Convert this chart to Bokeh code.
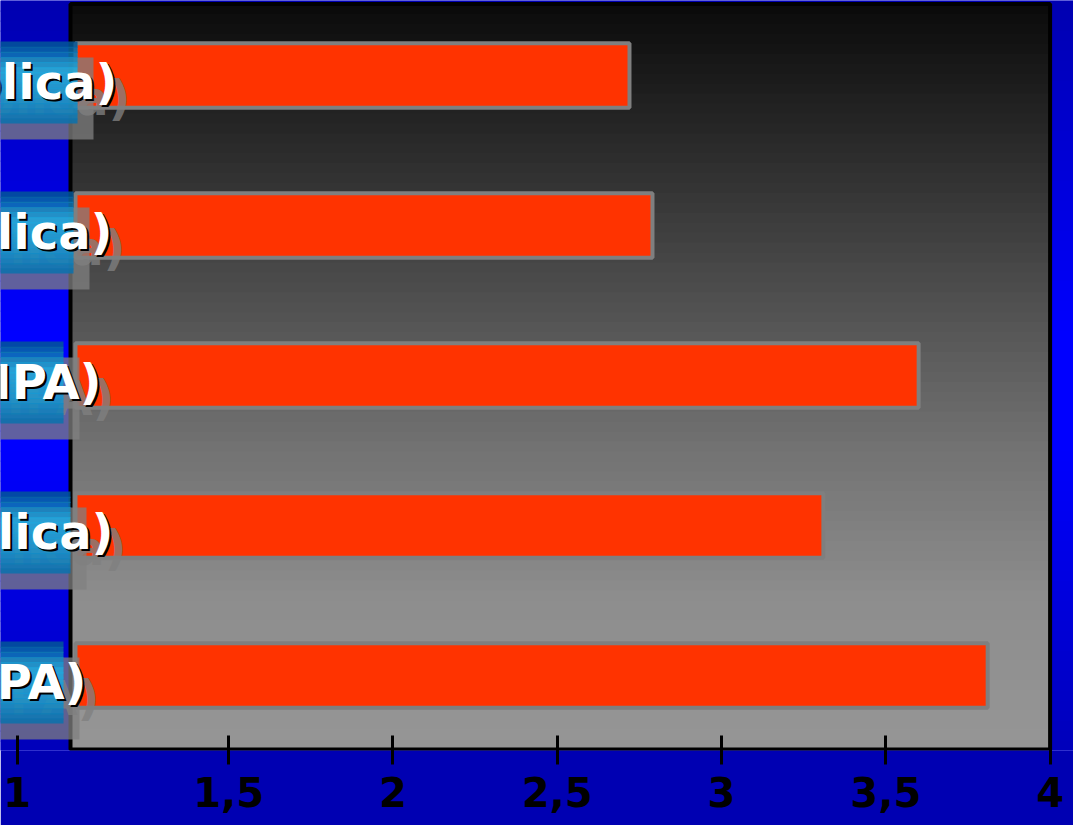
import numpy as np
from bokeh.plotting import figure
from bokeh.models import Range1d, FixedTicker
from bokeh.core.properties import value
from bokeh.embed import file_html
from bokeh.resources import INLINE

# ---------------- data ----------------
categories = ["blica)", "lica)", "IPA)", "lica)", "PA)"]
values = [2.72, 2.79, 3.60, 3.31, 3.81]
tick_values = [1, 1.5, 2, 2.5, 3, 3.5, 4]
tick_labels = ["1", "1,5", "2", "2,5", "3", "3,5", "4"]

# ---------------- geometry / style ----------------
W, H = 1073, 825
AXIS_H = 75
N = len(categories)
FH = H - AXIS_H
PYU = FH / N                     # px per category slot
PXU = 328.6                      # px per x unit
X_START = 4 - 1049.6 / PXU
X_END = X_START + W / PXU


def xpx(px):
    return X_START + px / PXU


def dy(px):
    return px / PYU


FONT = value("DejaVu Sans")
BOX_RIGHT_PX = [77, 73, 63, 70, 63]
TEXT_RIGHT_PX = [117, 112, 101, 113, 86]
PLOT_LEFT = xpx(70)
BAR_LEFT = xpx(75)
FIRST_TICK = xpx(16.7)

p = figure(width=W, height=H, x_range=Range1d(X_START, X_END), y_range=Range1d(0, N),
           output_backend="svg", toolbar_location=None, y_axis_location=None,
           min_border_left=0, min_border_right=0, min_border_top=0,
           min_border_bottom=AXIS_H)
p.border_fill_color = "#0000b2"
p.background_fill_color = "#0000d0"
p.outline_line_color = None
p.xgrid.visible = False
p.ygrid.visible = False


def vstrips(left, right, top_px, bot_px, n, keys, rk, gk, bk, alpha=1.0):
    e = np.linspace(top_px, bot_px, n + 1)
    m = (e[:-1] + e[1:]) / 2
    cols = ["#%02x%02x%02x" % (int(np.interp(v, keys, rk)), int(np.interp(v, keys, gk)),
                               int(np.interp(v, keys, bk))) for v in m]
    bottoms = np.minimum(e[1:] + 1.2, bot_px)
    p.quad(left=left, right=right, top=N - e[:-1] / PYU, bottom=N - bottoms / PYU,
           fill_color=cols, fill_alpha=alpha, line_color=None)


# blue slide background gradient
vstrips(X_START, X_END, 0, FH, 75, [0, 330, 450, 750], [0] * 4, [0] * 4, [176, 255, 255, 186])

# plot area gradient + frame
top_px, bot_px = 3.5, 749
gk = [10, 44, 80, 115, 142, 150]
vstrips(PLOT_LEFT, 4, top_px, bot_px, 75, [0, 150, 300, 450, 600, 750], gk, gk, gk)
p.quad(left=PLOT_LEFT, right=4, top=N - top_px / PYU, bottom=N - bot_px / PYU,
       fill_color=None, line_color="black", line_width=4)

# bars
ypos = [N - i - 0.5 for i in range(N)]
p.hbar(y=ypos, left=BAR_LEFT, right=values, height=0.43,
       fill_color="#ff3300", line_color="#7f7f7f", line_width=4)

# category labels: drop-shadow box, ghost text, cyan box, black shadow, white text
base = [y - dy(6) for y in ypos]
tr = np.array(TEXT_RIGHT_PX, dtype=float)
common = dict(text_font=FONT, text_font_style="bold", text_font_size="48px",
              text_align="right", text_baseline="alphabetic")

for i in range(N):
    yc = ypos[i]
    r = BOX_RIGHT_PX[i]
    p.quad(left=xpx(-5), right=xpx(r + 16), top=yc - dy(-34 + 16), bottom=yc - dy(48 + 16),
           fill_color="#808080", fill_alpha=0.75, line_color=None)

p.text(x=[xpx(v + 13) for v in tr], y=[b - dy(16) for b in base], text=categories,
       text_color="#808080", text_alpha=0.8, **common)

for i in range(N):
    yc = ypos[i]
    r = BOX_RIGHT_PX[i]
    nb = 16
    e = np.linspace(-34, 48, nb + 1)
    t = (np.arange(nb) + 0.5) / nb
    rr = np.interp(t, [0, 0.35, 0.7, 1], [0, 32, 22, 10]).astype(int)
    gg = np.interp(t, [0, 0.35, 0.7, 1], [78, 172, 150, 110]).astype(int)
    bb = np.interp(t, [0, 0.35, 0.7, 1], [145, 224, 208, 170]).astype(int)
    bots = np.minimum(e[1:] + 1.2, 48)
    p.quad(left=xpx(-5), right=xpx(r), top=yc - dy(e[:-1]), bottom=yc - dy(bots),
           fill_color=["#%02x%02x%02x" % c for c in zip(rr, gg, bb)], fill_alpha=0.85,
           line_color=None)

p.text(x=[xpx(v + 2) for v in tr], y=[b - dy(2.5) for b in base], text=categories,
       text_color="black", **common)
p.text(x=[xpx(v) for v in tr], y=base, text=categories, text_color="white", **common)

# x axis
tick_pos = [FIRST_TICK] + tick_values[1:]
ax = p.xaxis[0]
ax.ticker = FixedTicker(ticks=tick_pos)
ax.major_label_overrides = {t: l for t, l in zip(tick_pos, tick_labels)}
ax.axis_line_color = None
ax.minor_tick_line_color = None
ax.major_tick_in = 15
ax.major_tick_out = 14
ax.major_tick_line_width = 3
ax.major_tick_line_color = "black"
ax.major_label_standoff = 12
ax.major_label_text_font = "DejaVu Sans"
ax.major_label_text_font_style = "bold"
ax.major_label_text_font_size = "40px"
ax.major_label_text_color = "black"

open("out.html", "w").write(file_html(p, INLINE))
